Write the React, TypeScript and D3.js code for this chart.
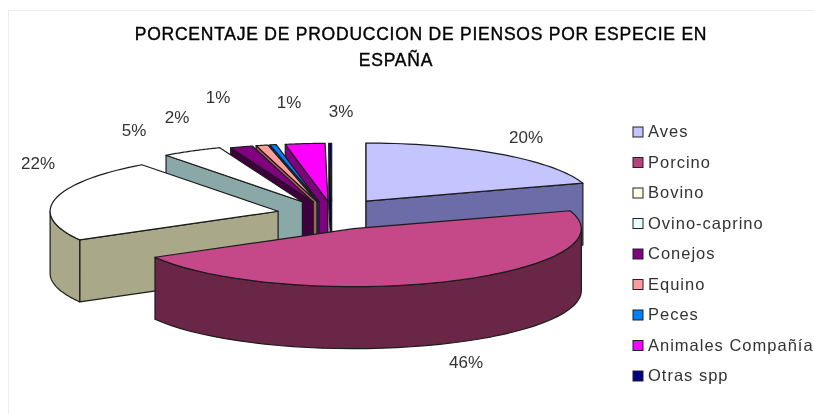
import React from "react";
import * as d3 from "d3";

const categories = ["Aves", "Porcino", "Bovino", "Ovino-caprino", "Conejos", "Equino", "Peces", "Animales Compañía", "Otras spp"];
const values = [20, 46.8, 23, 4.3, 1.6, 0.85, 0.45, 2.8, 0.2];
const sliceLabels = ["20%", "46%", "22%", "5%", "2%", "1%", "1%", "3%"];
const topColors = ["#C4C4FF", "#C54888", "#FFFFFF", "#FFFFFF", "#800080", "#FF9C9C", "#0080FF", "#FF00FF", "#000080"];
const sideColors = ["#6C6CA8", "#6B2547", "#A9A98A", "#8AA8A8", "#400040", "#B06060", "#004080", "#800080", "#000040"];
const legendColors = ["#C4C4FF", "#B84080", "#FFFFE8", "#E8FFFF", "#800080", "#FF9C9C", "#0080FF", "#FF00FF", "#000080"];
const titleLines = ["PORCENTAJE DE PRODUCCION DE PIENSOS POR ESPECIE EN", "ESPAÑA"];

// layout of the pie, not data
const explodes = [63, 63, 52, 55, 50, 50, 50, 50, 50];
const nudgeX = [0, -1, 0, 0, 0, 0, 0, 4, 3];
const labelPos = [
  [526, 143], [466, 368], [38, 169], [134, 136], [177, 123], [218, 103], [289, 108], [341, 117],
];

const cx = 329;
const cy = 214;
const rx = 228;
const ry = 58;
const depth = 62;
const FONT = "'Liberation Sans', Arial, sans-serif";

const pie = d3.pie<number>().sort(null).value((d) => d);
const arcs = pie(values);

// clockwise from the top, flattened to the tilt of the pie
const pt = (x0: number, y0: number, a: number) => [x0 + rx * Math.sin(a), y0 - ry * Math.cos(a)];

const arcPath = (x0: number, y0: number, a0: number, a1: number, dy = 0) => {
  const line = d3.line();
  const steps = d3.range(0, 41).map((i) => a0 + ((a1 - a0) * i) / 40);
  return line(steps.map((a) => {
    const p = pt(x0, y0, a);
    return [p[0], p[1] + dy] as [number, number];
  }))!;
};

const Slice = ({ i }: { i: number }) => {
  const { startAngle: a0, endAngle: a1 } = arcs[i];
  const mid = (a0 + a1) / 2;
  const x0 = cx + explodes[i] * Math.sin(mid) + nudgeX[i];
  const y0 = cy - explodes[i] * (ry / rx) * Math.cos(mid);
  const stroke = "#1c1c1c";
  const walls: React.ReactNode[] = [];

  // flat cut faces, only those whose wedge lies above the edge face the viewer
  [a0, a1].forEach((a, k) => {
    const p = pt(x0, y0, a);
    const m = pt(x0, y0, mid);
    const side = (p[0] - x0) * (m[1] - y0) - (p[1] - y0) * (m[0] - x0);
    const visible = p[0] > x0 ? side < 0 : side > 0;
    if (visible) {
      const d = `M${x0},${y0}L${p[0]},${p[1]}L${p[0]},${p[1] + depth}L${x0},${y0 + depth}Z`;
      walls.push(<path key={k} d={d} fill={sideColors[i]} stroke={stroke} />);
    }
  });

  // rounded outer wall for the part of the arc that faces front
  const w0 = Math.max(a0, Math.PI / 2);
  const w1 = Math.min(a1, (Math.PI * 3) / 2);
  let outer = null;
  if (w1 > w0) {
    const top = arcPath(x0, y0, w0, w1);
    const bottom = arcPath(x0, y0, w1, w0, depth);
    outer = <path d={`${top}L${bottom.slice(1)}Z`} fill={sideColors[i]} stroke={stroke} />;
  }

  const rim = arcPath(x0, y0, a0, a1);
  return (
    <g strokeWidth={1.2} strokeLinejoin="round">
      {walls}
      {outer}
      <path d={`M${x0},${y0}L${rim.slice(1)}Z`} fill={topColors[i]} stroke={stroke} />
    </g>
  );
};

const drawOrder = [8, 7, 6, 5, 4, 3, 0, 2, 1];

export default function App() {
  const legendY = d3.scalePoint<string>().domain(categories).range([132, 376]);
  return (
    <svg
      width={814}
      height={414}
      viewBox="0 0 814 414"
      style={{ position: "absolute", left: 0, top: 0, background: "#fff", fontFamily: FONT }}
    >
      <defs>
        <filter id="soft" x="-5%" y="-5%" width="110%" height="110%">
          <feGaussianBlur stdDeviation="0.45" />
        </filter>
      </defs>
      <g filter="url(#soft)">
        <path d="M8.5,414V10.5H814" fill="none" stroke="#ececec" />
        {titleLines.map((t, i) => (
          <text key={t} x={i === 0 ? 421 : 396} y={39.5 + i * 26} textAnchor="middle" fontSize={17.5} letterSpacing={0.76} fill="#000" stroke="#000" strokeWidth={0.4}>
            {t}
          </text>
        ))}
        {drawOrder.map((i) => <Slice key={i} i={i} />)}
        {sliceLabels.map((t, i) => (
          <text key={i} x={labelPos[i][0]} y={labelPos[i][1]} textAnchor="middle" fontSize={17} fill="#333">
            {t}
          </text>
        ))}
        {categories.map((c, i) => {
          const y = legendY(c)!;
          return (
            <g key={c}>
              <rect x={633} y={y - 5} width={10} height={10} fill={legendColors[i]} stroke="#222" />
              <text x={648} y={y + 5} fontSize={16.5} letterSpacing={1} fill="#333">{c}</text>
            </g>
          );
        })}
      </g>
    </svg>
  );
}
